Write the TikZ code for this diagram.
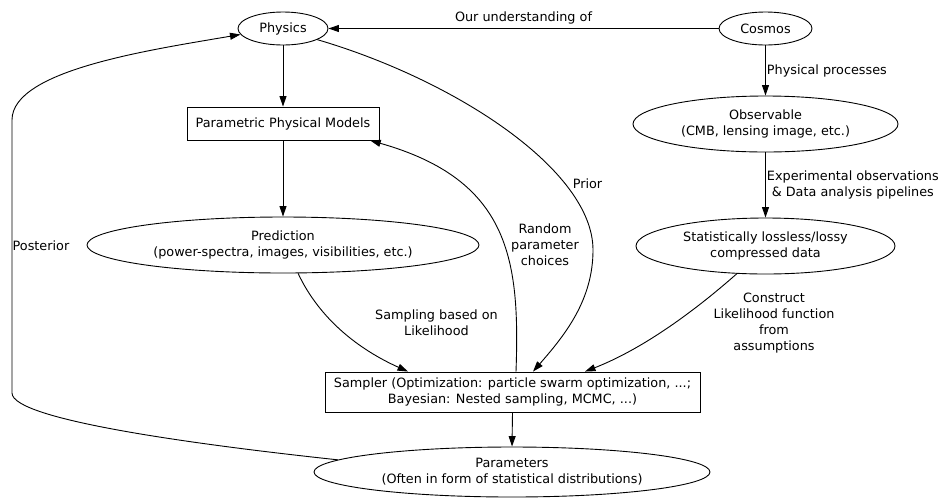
\documentclass[tikz,border=0pt]{standalone}
\usepackage{fontspec}
\setmainfont{DejaVu Sans}
\usetikzlibrary{shapes.geometric,arrows.meta}
\begin{document}
\begin{tikzpicture}[x=1pt,y=-1pt,
  every node/.style={font=\fontsize{12.8}{16}\selectfont, inner sep=0pt, align=center},
  ell/.style={draw, ellipse, line width=0.9pt},
  box/.style={draw, rectangle, line width=0.9pt},
  conn/.style={draw, line width=0.9pt, -{Triangle[length=10.5pt,width=7pt]}}
]
\useasboundingbox (0,0) rectangle (941,499);

% nodes
\node[ell, minimum width=90pt, minimum height=33pt] (phys) at (283,28.5) {Physics};
\node[ell, minimum width=93pt, minimum height=33pt] (cosmos) at (765.5,28.5) {Cosmos};
\node[box, minimum width=192pt, minimum height=33pt] (ppm) at (283,123.5) {Parametric Physical Models};
\node[ell, minimum width=392pt, minimum height=56pt] (pred) at (283,245) {Prediction\\(power-spectra, images, visibilities, etc.)};
\node[ell, minimum width=265pt, minimum height=56pt] (obs) at (765.5,124) {Observable\\(CMB, lensing image, etc.)};
\node[ell, minimum width=259pt, minimum height=56pt] (stat) at (765.5,246) {Statistically lossless/lossy\\compressed data};
\node[box, minimum width=375pt, minimum height=40pt] (sampler) at (512.5,392) {Sampler (Optimization: particle swarm optimization, ...;\\Bayesian: Nested sampling, MCMC, ...)};
\node[ell, minimum width=396pt, minimum height=50pt] (params) at (512,472) {Parameters\\(Often in form of statistical distributions)};

% straight connectors
\draw[conn] (cosmos.west) -- node[above=4pt] {Our understanding of} (phys.east);
\draw[conn] (phys.south) -- (ppm.north);
\draw[conn] (ppm.south) -- (pred.north);
\draw[conn] (cosmos.south) -- node[right=1pt] {Physical processes} (obs.north);
\draw[conn] (obs.south) -- node[right=1pt] {Experimental observations\\\& Data analysis pipelines} (stat.north);
\draw[conn] (sampler.south) -- (params.north);

% curved connectors
\draw[conn] (pred.-62) .. controls (320,320) and (360,350) .. ([xshift=-104.5pt]sampler.north);
\node at (436.5,323) {Sampling based on\\Likelihood};

\draw[conn] (stat.-136) .. controls (690,315) and (640,350) .. ([xshift=72.5pt]sampler.north);
\node at (774,323) {Construct\\Likelihood function\\from\\assumptions};

\draw[conn] (phys.-18) .. controls (455,80) and (593,170) .. (593,250)
  .. controls (593,300) and (565,335) .. ([xshift=20.5pt]sampler.north);
\node at (587.5,184) {Prior};

\draw[conn] ([xshift=3.5pt]sampler.north) .. controls (520,260) and (510,180) .. (ppm.-11.5);
\node at (545,245) {Random\\parameter\\choices};

\draw[conn] (params.176.5) .. controls (200,445) and (12,420) .. (12,393)
  -- (12,120) .. controls (12,70) and (150,50) .. (phys.188);
\node[anchor=west] at (12.5,246) {Posterior};
\end{tikzpicture}
\end{document}
